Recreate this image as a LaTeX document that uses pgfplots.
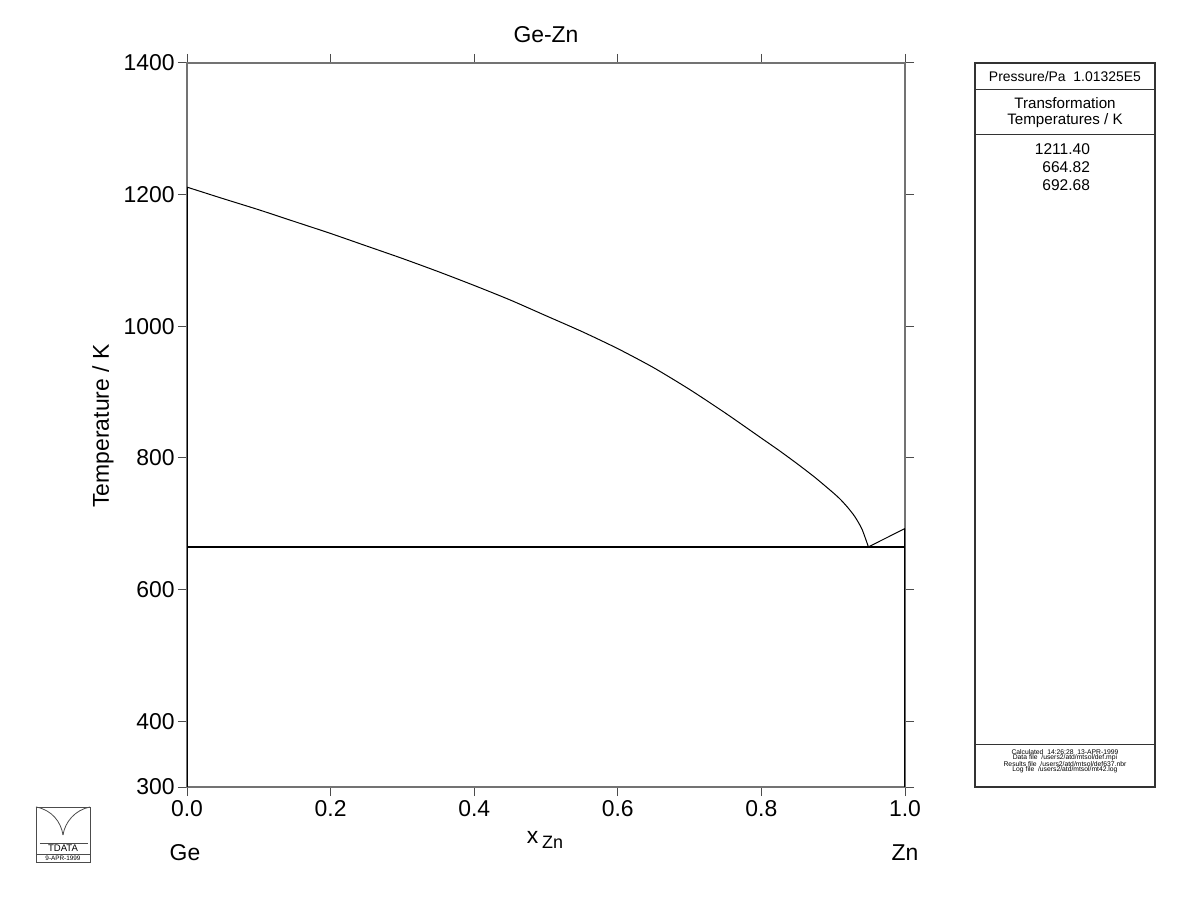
\documentclass[border=0pt]{standalone}
\usepackage{pgfplots}
\pgfplotsset{compat=1.18}
\usepackage{fontspec}
\setmainfont{Liberation Sans}

\newcommand{\tk}{\fontsize{11.5}{13}\selectfont}

\begin{document}
\begin{tikzpicture}
\useasboundingbox (0,0) rectangle (600bp,461.5bp);
\begin{axis}[
  at={(93.5bp,68bp)}, anchor=south west,
  scale only axis, width=359bp, height=362bp,
  xmin=0, xmax=1, ymin=300, ymax=1400,
  xtick={0,0.2,0.4,0.6,0.8,1},
  ytick={300,400,600,800,1000,1200,1400},
  scaled y ticks=false,
  tick align=outside,
  major tick length=4.5bp,
  /pgf/number format/assume math mode=true,
  xticklabel style={inner sep=2bp, /pgf/number format/.cd, fixed, fixed zerofill, precision=1},
  yticklabel style={inner sep=1.5bp, /pgf/number format/1000 sep={}},
  ticklabel style={font=\tk},
  axis line style={black!55, line width=0.7bp},
  tick style={black!70, line width=0.5bp},
]
% liquidus (Ge side)
\addplot[black, line width=0.5bp, smooth, tension=0.4] coordinates {
  (0,1211.4) (0.05,1194) (0.1,1177) (0.15,1159) (0.2,1141) (0.25,1122)
  (0.3,1103) (0.35,1083) (0.4,1062) (0.45,1040) (0.5,1016) (0.55,992)
  (0.6,966) (0.65,937) (0.7,904) (0.75,868) (0.8,830) (0.825,811)
  (0.85,791) (0.875,770) (0.9,747) (0.91,737) (0.92,725) (0.93,711)
  (0.94,692) (0.949,664.82)};
% liquidus (Zn side)
\addplot[black, line width=0.5bp] coordinates {(0.949,664.82) (1,692.68)};
% eutectic
\addplot[black, line width=1bp] coordinates {(0,664.82) (1,664.82)};
% pure elements
\addplot[black, line width=0.9bp] coordinates {(0,300) (0,1211.4)};
\addplot[black, line width=0.9bp] coordinates {(1,300) (1,692.68)};
\end{axis}

\begin{scope}[x=0.5bp, y=-0.5bp, shift={(0,461.5bp)}]
  % titles and labels
  \node[font=\tk] at (546,35) {Ge-Zn};
  \node[font=\tk, rotate=90] at (103,426) {Temperature / K};
  \node[font=\tk] at (545,840) {x\,\raisebox{-0.45ex}{\fontsize{9}{10}\selectfont Zn}};
  \node[font=\tk] at (185,853) {Ge};
  \node[font=\tk] at (905,853) {Zn};

  % right information panel
  \draw[black!80, line width=0.6bp] (975,63) rectangle (1155,787);
  \draw[black!80, line width=0.5bp] (975,90) -- (1155,90);
  \draw[black!80, line width=0.5bp] (975,135) -- (1155,135);
  \draw[black!80, line width=0.5bp] (975,745) -- (1155,745);
  \node[font=\fontsize{7}{8}\selectfont] at (1065,77) {Pressure/Pa\ \ 1.01325E5};
  \node[font=\fontsize{7.6}{8.5}\selectfont] at (1065,103) {Transformation};
  \node[font=\fontsize{7.6}{8.5}\selectfont] at (1065,121) {Temperatures / K};
  \node[font=\fontsize{7.8}{8.5}\selectfont, anchor=east] at (1097,149) {1211.40};
  \node[font=\fontsize{7.8}{8.5}\selectfont, anchor=east] at (1097,167) {664.82};
  \node[font=\fontsize{7.8}{8.5}\selectfont, anchor=east] at (1097,185) {692.68};
  \begin{scope}[font=\fontsize{3.4}{3.5}\selectfont, xscale=1.25]
    \node at (852,752) {Calculated\ \ 14:26:28\ \ 13-APR-1999};
    \node at (852,758) {Data file\ \ /users2/atd/mtsol/def.mpi};
    \node at (852,764) {Results file\ \ /users2/atd/mtsol/def637.nbr};
    \node at (852,770) {Log file\ \ /users2/atd/mtsol/mt42.log};
  \end{scope}

  % logo
  \draw[black!70, line width=0.4bp] (36,807) rectangle (90,862);
  \draw[black!70, line width=0.4bp] (36,854) -- (90,854);
  \draw[black!70, line width=0.4bp] (40,843) -- (88,843);
  \draw[black!70, line width=0.4bp] (36,807) .. controls (52,810) and (61,822) .. (63,835);
  \draw[black!70, line width=0.4bp] (90,807) .. controls (75,810) and (65,822) .. (63,835);
  \node[font=\fontsize{4.8}{5}\selectfont] at (63,848.5) {TDATA};
  \node[font=\fontsize{3.2}{3.5}\selectfont] at (63,858.5) {9-APR-1999};
\end{scope}
\end{tikzpicture}
\end{document}
